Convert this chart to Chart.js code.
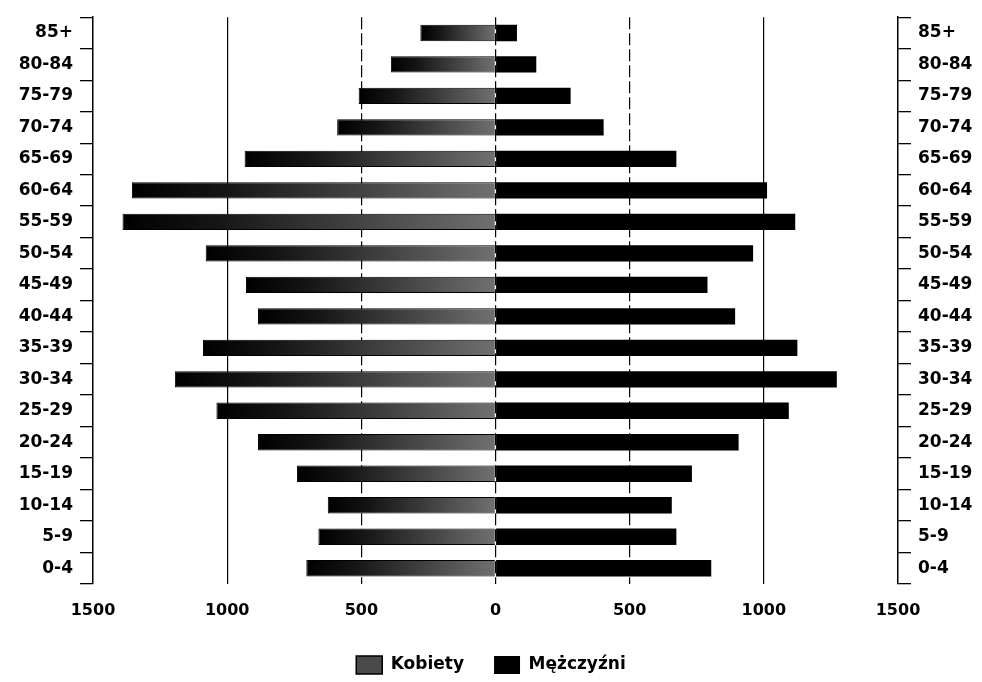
<!DOCTYPE html>
<html lang="pl">
<head>
<meta charset="utf-8">
<script src="https://cdn.jsdelivr.net/npm/chart.js@4/dist/chart.umd.min.js"></script>
<style>
  html, body { margin: 0; padding: 0; background: #fff; }
  #wrap { width: 982px; height: 682px; }
</style>
</head>
<body>
<div id="wrap"><canvas id="piramida"></canvas></div>
<script>
// Grupy wieku (od góry)
const grupyWieku = ['85+', '80-84', '75-79', '70-74', '65-69', '60-64', '55-59', '50-54', '45-49',
                    '40-44', '35-39', '30-34', '25-29', '20-24', '15-19', '10-14', '5-9', '0-4'];

// Liczebność
const kobiety   = [280, 390, 510, 590, 935, 1355, 1390, 1080, 930, 885, 1090, 1195, 1040, 885, 740, 625, 660, 705];
const mezczyzni = [80, 152, 280, 403, 674, 1012, 1117, 960, 790, 893, 1125, 1272, 1093, 906, 732, 657, 674, 804];

const etykietySerii = ['Kobiety', 'Mężczyźni'];
const osX = { min: -1500, max: 1500, krok: 500 };

const FONT = 'DejaVu Sans';

// wypełnienie słupków kobiet - ciemne przy końcu, jaśniejsze przy zerze
function wypelnienieKobiet(ctx) {
    const chart = ctx.chart;
    if (!chart.chartArea || ctx.type !== 'data') return '#444';
    const xs = chart.scales.x;
    const x0 = xs.getPixelForValue(0);
    const x1 = xs.getPixelForValue(ctx.raw);
    const g = chart.ctx.createLinearGradient(x1, 0, x0, 0);
    g.addColorStop(0, '#000');
    g.addColorStop(0.25, '#151515');
    g.addColorStop(1, '#707070');
    return g;
}

const osY = {
    type: 'category',
    offset: true,
    stacked: true,
    grid: { offset: true, drawOnChartArea: false, tickLength: 13, color: '#000', lineWidth: 1.3 },
    border: { color: '#000', width: 1.5 },
    ticks: { color: '#000', padding: 7, font: { family: FONT, size: 17, weight: 'bold' } }
};

new Chart(document.getElementById('piramida'), {
    type: 'bar',
    data: {
        labels: grupyWieku,
        datasets: [
            {
                label: etykietySerii[0],
                data: kobiety.map(v => -v),
                backgroundColor: wypelnienieKobiet,
                borderColor: '#000',
                borderWidth: 1,
                barPercentage: 0.52,
                categoryPercentage: 1
            },
            {
                label: etykietySerii[1],
                data: mezczyzni,
                backgroundColor: '#000',
                barPercentage: 0.52,
                categoryPercentage: 1
            }
        ]
    },
    options: {
        indexAxis: 'y',
        responsive: true,
        maintainAspectRatio: false,
        animation: false,
        layout: { padding: { top: 15, left: 0, right: 0, bottom: -2 } },
        scales: {
            x: {
                min: osX.min,
                max: osX.max,
                stacked: true,
                grid: {
                    drawTicks: false,
                    lineWidth: 1.2,
                    color: c => Math.abs(c.tick.value) === 1500 ? 'rgba(0,0,0,0)' : '#000'
                },
                border: {
                    display: false,
                    dash: c => (c.tick && Math.abs(c.tick.value) === 1000) ? [] : [12, 4]
                },
                ticks: {
                    stepSize: osX.krok,
                    color: '#000',
                    padding: 17,
                    font: { family: FONT, size: 16, weight: 'bold' },
                    callback: v => Math.abs(v)
                },
                afterFit: s => { s.height = 42; }
            },
            y: Object.assign({}, osY, {
                position: 'left',
                afterFit: s => { s.width = 93; }
            }),
            y2: Object.assign({}, osY, {
                position: 'right',
                afterFit: s => { s.width = 84; }
            })
        },
        plugins: {
            tooltip: { enabled: false },
            legend: {
                position: 'bottom',
                labels: {
                    color: '#000',
                    boxWidth: 26,
                    boxHeight: 18,
                    padding: 30,
                    font: { family: FONT, size: 17, weight: 'bold' },
                    generateLabels: chart => Chart.defaults.plugins.legend.labels.generateLabels(chart).map((l, i) => {
                        if (i === 0) { l.fillStyle = '#4a4a4a'; l.strokeStyle = '#000'; l.lineWidth = 1.5; }
                        return l;
                    })
                }
            }
        }
    }
});
</script>
</body>
</html>
